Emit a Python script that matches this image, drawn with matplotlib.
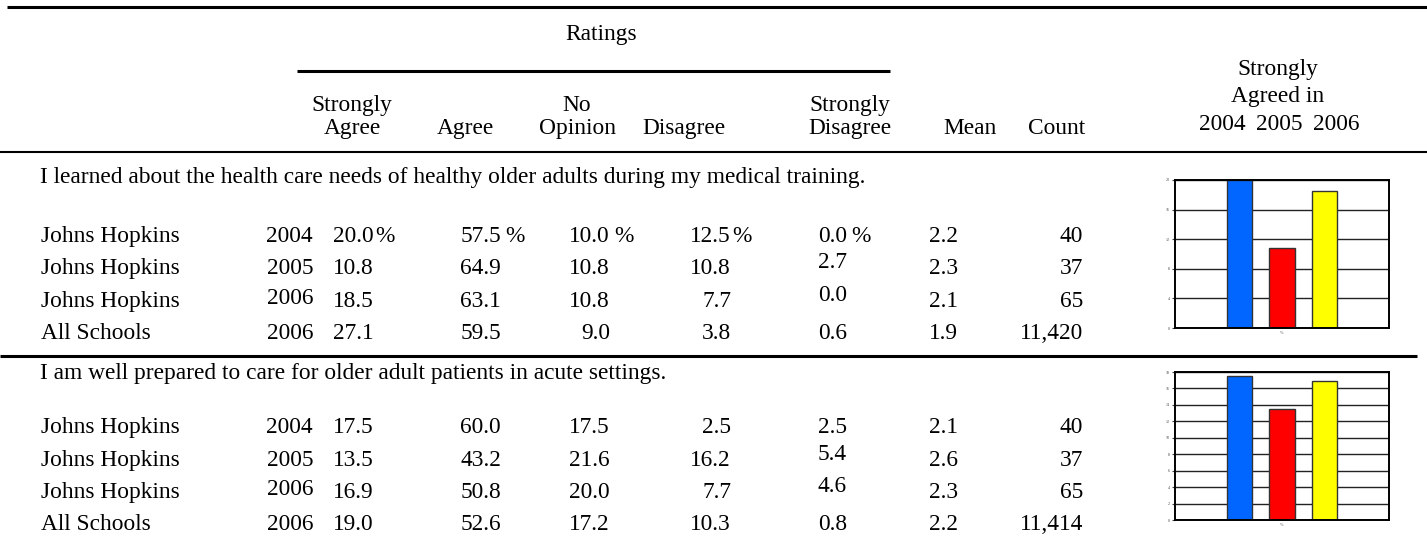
import matplotlib.pyplot as plt

plt.rcParams['font.family'] = ['Liberation Serif', 'DejaVu Serif']

# ---- data ----
questions = [
    "I learned about the health care needs of healthy older adults during my medical training.",
    "I am well prepared to care for older adult patients in acute settings.",
]
schools = ["Johns Hopkins", "Johns Hopkins", "Johns Hopkins", "All Schools"]
years = ["2004", "2005", "2006", "2006"]

q1_strongly_agree = [20.0, 10.8, 18.5, 27.1]
q1_agree = [57.5, 64.9, 63.1, 59.5]
q1_no_opinion = [10.0, 10.8, 10.8, 9.0]
q1_disagree = [12.5, 10.8, 7.7, 3.8]
q1_strongly_disagree = [0.0, 2.7, 0.0, 0.6]
q1_mean = [2.2, 2.3, 2.1, 1.9]
q1_count = [40, 37, 65, 11420]

q2_strongly_agree = [17.5, 13.5, 16.9, 19.0]
q2_agree = [60.0, 43.2, 50.8, 52.6]
q2_no_opinion = [17.5, 21.6, 20.0, 17.2]
q2_disagree = [2.5, 16.2, 7.7, 10.3]
q2_strongly_disagree = [2.5, 5.4, 4.6, 0.8]
q2_mean = [2.1, 2.6, 2.3, 2.2]
q2_count = [40, 37, 65, 11414]

chart_years = ["2004", "2005", "2006"]
chart_colors = ["#0066ff", "#ff0000", "#ffff00"]
q1_chart = [20.0, 10.8, 18.5]
q2_chart = [17.5, 13.5, 16.9]

W, H = 1427, 544
FS = 16.8

fig = plt.figure(figsize=(W / 100, H / 100), dpi=100)
ax = fig.add_axes([0, 0, 1, 1])
ax.set_xlim(0, W)
ax.set_ylim(H, 0)
ax.axis('off')


def txt(x, y, s, ha='left'):
    ax.text(x, y, s, ha=ha, va='baseline', fontsize=FS)


# rules
ax.plot([7, W], [7, 7], color='black', lw=2.2, solid_capstyle='butt')
ax.plot([297, 890], [71, 71], color='black', lw=2.2, solid_capstyle='butt')
ax.plot([0, W], [152, 152], color='black', lw=1.5, solid_capstyle='butt')
ax.plot([0, 1417], [356, 356], color='black', lw=2.2, solid_capstyle='butt')

# header
txt(601, 40, "Ratings", 'center')
headers = [(352, "Strongly", "Agree"), (465, "", "Agree"), (577, "No", "Opinion"),
           (684, "", "Disagree"), (850, "Strongly", "Disagree"), (970, "", "Mean"),
           (1057, "", "Count")]
for x, top, bottom in headers:
    if top:
        txt(x, 111, top, 'center')
    txt(x, 134, bottom, 'center')
txt(1278, 75, "Strongly", 'center')
txt(1278, 102, "Agreed in", 'center')
for x, yr in zip([1222, 1279, 1336], chart_years):
    txt(x, 130, yr, 'center')

# body
blocks = [
    dict(q=questions[0], qy=183, rows=[242, 274, 307, 339],
         cols=[q1_strongly_agree, q1_agree, q1_no_opinion, q1_disagree, q1_strongly_disagree],
         mean=q1_mean, count=q1_count, pct=True),
    dict(q=questions[1], qy=379, rows=[433, 466, 498, 530],
         cols=[q2_strongly_agree, q2_agree, q2_no_opinion, q2_disagree, q2_strongly_disagree],
         mean=q2_mean, count=q2_count, pct=False),
]
col_right = [374, 501, 610, 731, 847]
pct_gap = [0, 3, 3, 0, 3]
for b in blocks:
    txt(40, b['qy'], b['q'])
    for i, y in enumerate(b['rows']):
        txt(41, y, schools[i])
        txt(313, y - (3 if i == 2 else 0), years[i], 'right')
        for c, vals in enumerate(b['cols']):
            yy = y - 6 if (c == 4 and i in (1, 2)) else y
            txt(col_right[c], yy, f"{vals[i]:.1f}", 'right')
            if b['pct'] and i == 0:
                txt(col_right[c] + 1 + pct_gap[c], yy, "%")
        txt(958, y, f"{b['mean'][i]:.1f}", 'right')
        txt(1083, y, f"{b['count'][i]:,}", 'right')


# small bar charts
def bar_chart(top, bottom, vals, ymax, step):
    bx = fig.add_axes([1175 / W, 1 - bottom / H, 214 / W, (bottom - top) / H])
    bx.set_axisbelow(True)
    bx.bar(range(len(vals)), vals, width=0.6, color=chart_colors,
           edgecolor='#333333', linewidth=1.0)
    bx.set_xlim(-1.52, 3.52)
    bx.set_ylim(0, ymax)
    bx.set_yticks(range(0, ymax + 1, step))
    bx.yaxis.grid(True, color='#222222', lw=1.0)
    bx.set_xticks([])
    bx.set_xlabel("%", fontsize=3, labelpad=2, color='#555555')
    bx.tick_params(axis='y', labelsize=3, length=2, pad=2, colors='#444444')
    for s in bx.spines.values():
        s.set_linewidth(1.4)
        s.set_color('black')


bar_chart(180, 328, q1_chart, 20, 4)
bar_chart(372, 520, q2_chart, 18, 2)

fig.savefig("out.png", dpi=100)
